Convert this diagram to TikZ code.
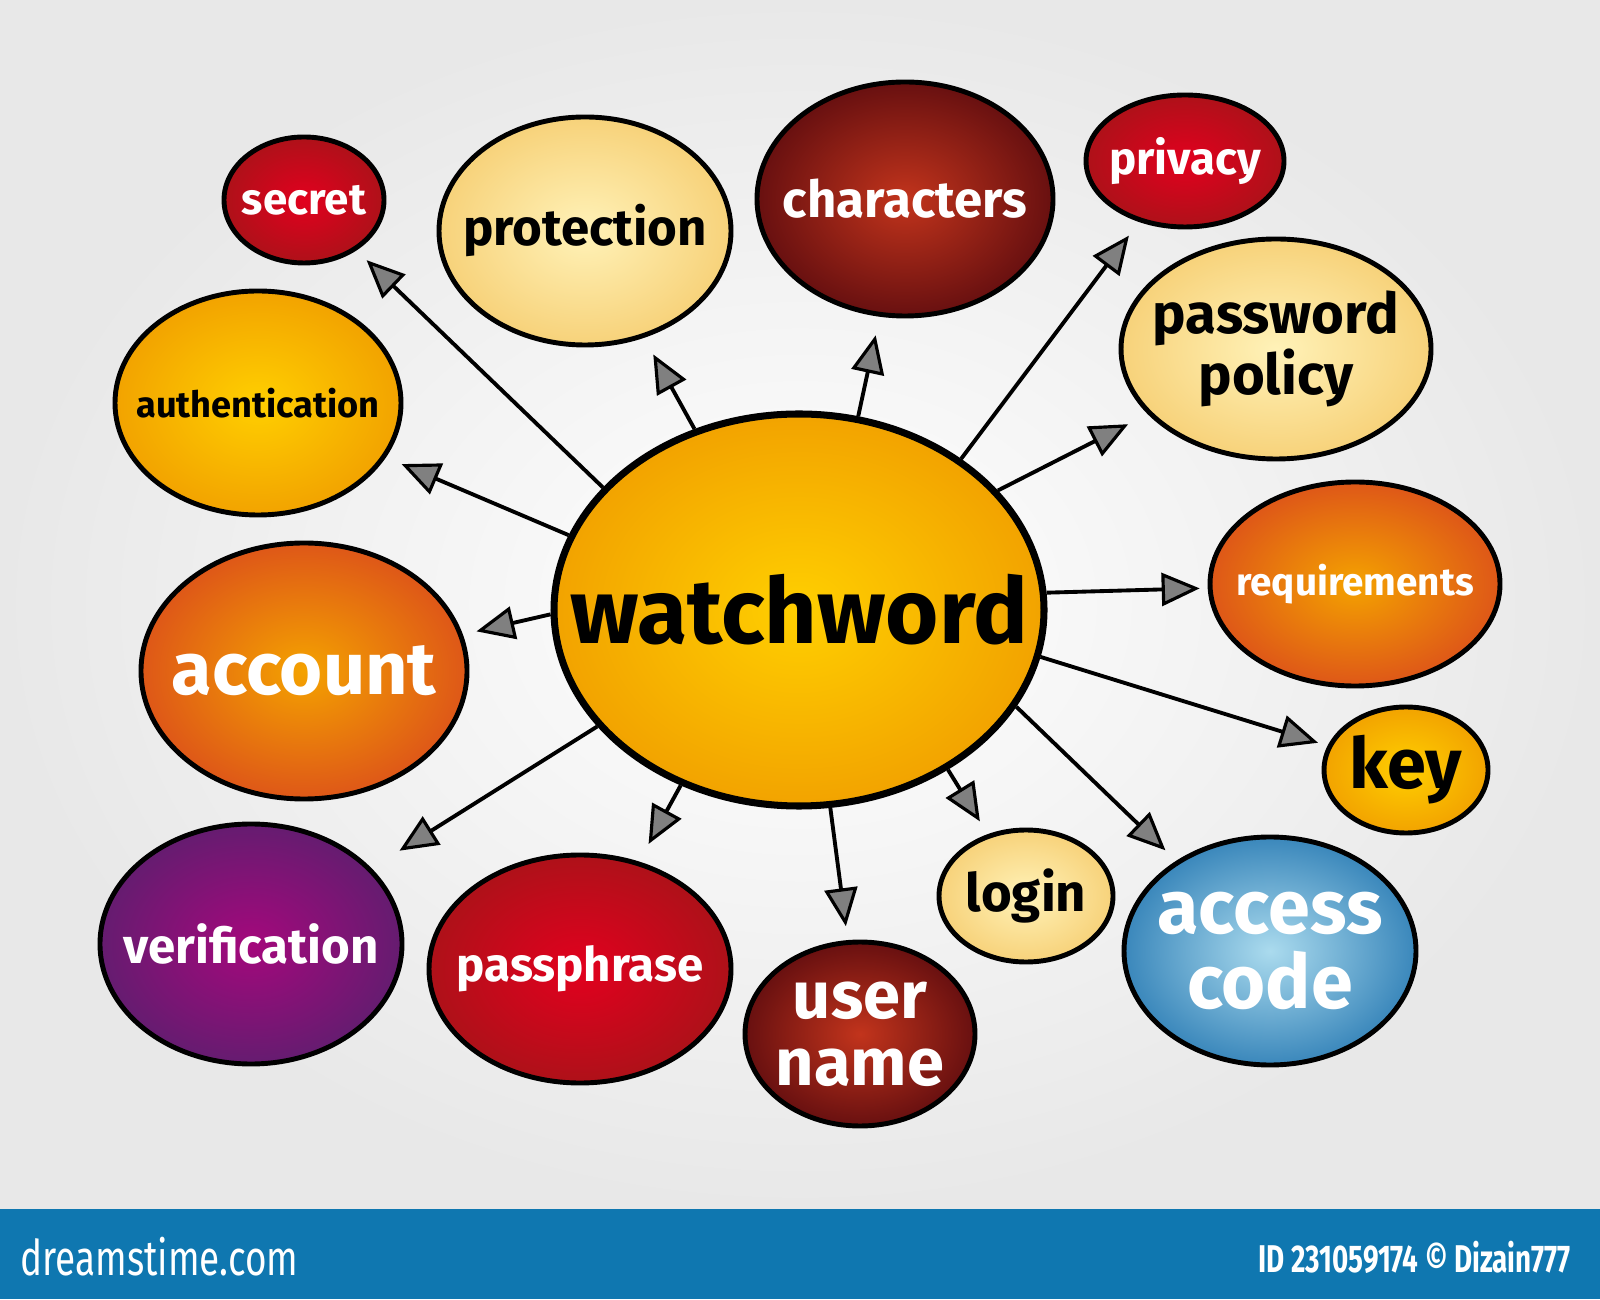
\documentclass[tikz,border=0pt]{standalone}
\usepackage{fontspec}
\setmainfont{Fira Sans}
\usetikzlibrary{shapes.geometric,arrows.meta}
\definecolor{barblue}{HTML}{0F77B0}
\definecolor{paleout}{HTML}{F7D27A}
\definecolor{palein}{HTML}{FFF2B8}
\definecolor{yin}{HTML}{FFCF00}
\definecolor{yout}{HTML}{F2A300}
\definecolor{rin}{HTML}{E2001E}
\definecolor{rout}{HTML}{AE1119}
\definecolor{brin}{HTML}{C2341C}
\definecolor{brout}{HTML}{681010}
\definecolor{oin}{HTML}{F4A200}
\definecolor{oout}{HTML}{DE5718}
\definecolor{pin}{HTML}{A4087C}
\definecolor{pout}{HTML}{651C70}
\definecolor{bin}{HTML}{ABDBEE}
\definecolor{bout}{HTML}{3A87BB}
\tikzset{
  bub/.style={ellipse, draw=black, line width=1.4pt, inner sep=0pt},
  lab/.style={align=center, font=\bfseries\fontsize{#1}{#1}\selectfont},
  arr/.style={line width=1.1pt, -{Triangle[length=3.8mm,width=3.3mm,fill=black!50,line width=0.9pt]}},
}
\begin{document}
\begin{tikzpicture}
\useasboundingbox (0,0) rectangle (16,12.99);
\shade[inner color=white, outer color=black!9] (0,0.9) rectangle (16,12.99);
\fill[barblue] (0,0) rectangle (16,0.90);

% centre
\node[bub, line width=2pt, minimum width=4.9cm, minimum height=3.92cm, inner color=yin, outer color=yout,
  label={[lab=26]center:watchword}] (w) at (7.99,6.89) {};

% satellites
\node[bub, minimum width=1.6cm, minimum height=1.26cm, inner color=rin, outer color=rout,
  label={[lab=12.5, text=white]center:secret}] (secret) at (3.04,10.99) {};
\node[bub, minimum width=2.92cm, minimum height=2.28cm, inner color=palein, outer color=paleout,
  label={[lab=14.5]center:protection}] (prot) at (5.85,10.68) {};
\node[bub, minimum width=2.96cm, minimum height=2.34cm, inner color=brin, outer color=brout,
  label={[lab=14.5, text=white]center:characters}] (chars) at (9.05,11.00) {};
\node[bub, minimum width=1.98cm, minimum height=1.32cm, inner color=rin, outer color=rout,
  label={[lab=13, text=white]center:privacy}] (priv) at (11.85,11.38) {};
\node[bub, minimum width=3.1cm, minimum height=2.2cm, inner color=palein, outer color=paleout,
  label={[lab=16]center:password\\policy}] (pol) at (12.76,9.50) {};
\node[bub, minimum width=2.86cm, minimum height=2.24cm, inner color=yin, outer color=yout,
  label={[lab=10.3]center:authentication}] (auth) at (2.58,8.96) {};
\node[bub, minimum width=2.9cm, minimum height=2.04cm, inner color=oin, outer color=oout,
  label={[lab=11, text=white]center:requirements}] (req) at (13.55,7.15) {};
\node[bub, minimum width=3.26cm, minimum height=2.56cm, inner color=oin, outer color=oout,
  label={[lab=21, text=white]center:account}] (acc) at (3.04,6.28) {};
\node[bub, minimum width=1.64cm, minimum height=1.26cm, inner color=yin, outer color=yout,
  label={[lab=20]center:key}] (key) at (14.06,5.29) {};
\node[bub, minimum width=3.02cm, minimum height=2.4cm, inner color=pin, outer color=pout,
  label={[lab=14, text=white]center:verification}] (ver) at (2.51,3.55) {};
\node[bub, minimum width=3.02cm, minimum height=2.28cm, inner color=rin, outer color=rout,
  label={[lab=13.5, text=white]center:passphrase}] (pass) at (5.80,3.30) {};
\node[bub, minimum width=2.3cm, minimum height=1.84cm, inner color=brin, outer color=brout,
  label={[lab=19, text=white]center:user\\name}] (user) at (8.60,2.65) {};
\node[bub, minimum width=1.74cm, minimum height=1.32cm, inner color=palein, outer color=paleout,
  label={[lab=15]center:login}] (login) at (10.26,4.03) {};
\node[bub, minimum width=2.92cm, minimum height=2.28cm, inner color=bin, outer color=bout,
  label={[lab=21.5, text=white]center:access\\code}] (code) at (12.70,3.48) {};

% connectors
\draw[arr, shorten >=0.14cm] (w.148) -- (secret);
\draw[arr, shorten >=0.19cm] (w.120) -- (prot);
\draw[arr, shorten >=0.19cm] (w.73) -- (chars);
\draw[arr, shorten >=0.17cm] (w.43) -- (priv);
\draw[arr, shorten >=0.22cm] (w.31) -- (pol);
\draw[arr, shorten >=0.17cm] (w.162.5) -- (auth);
\draw[arr, shorten >=0.14cm] (w.181) -- (acc);
\draw[arr, shorten >=0.08cm] (w.4.6) -- (req);
\draw[arr, shorten >=0.10cm] (w.-11.3) -- (key);
\draw[arr, shorten >=0.15cm] (w.-24.4) -- (code);
\draw[arr, shorten >=0.15cm] (w.-47.9) -- (login);
\draw[arr, shorten >=0.14cm] (w.-81.9) -- (user);
\draw[arr, shorten >=0.20cm] (w.236.3) -- (pass);
\draw[arr, shorten >=0.33cm] (w.210.3) -- (ver);

% footer
\node[anchor=west, text=white, inner sep=0pt, font=\fontsize{14}{16}\selectfont] (site) at (0.2,0.42) {\scalebox{0.75}[1]{dreamstime.com}};
\node[anchor=east, text=white, inner sep=0pt, font=\bfseries\fontsize{11}{13}\selectfont] (id) at (15.71,0.42) {\scalebox{0.72}[1]{ID 231059174 © Dizain777}};
\end{tikzpicture}
\end{document}
